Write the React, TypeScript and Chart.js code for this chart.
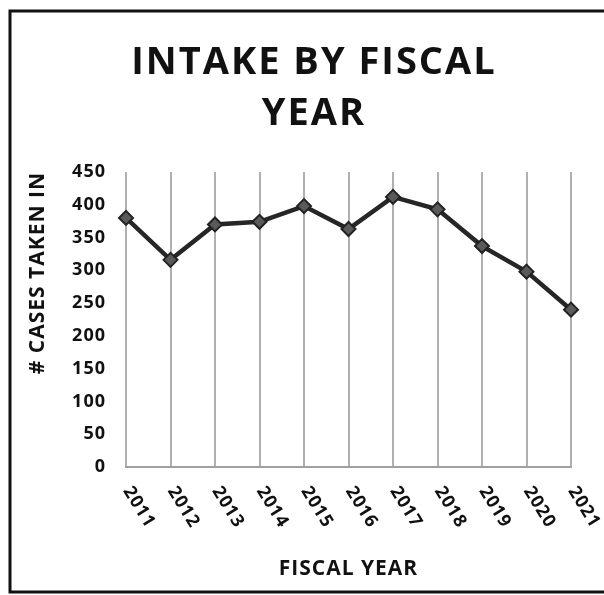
import React, { useEffect, useRef } from "react";
import { Chart, registerables } from "chart.js";

Chart.register(...registerables);

const fiscalYears = ["2011", "2012", "2013", "2014", "2015", "2016", "2017", "2018", "2019", "2020", "2021"];
const casesTakenIn = [380, 316, 370, 374, 398, 363, 412, 393, 337, 298, 240];
const titleLines = ["INTAKE BY FISCAL", "YEAR"];
const yAxisTitle = "# CASES TAKEN IN";
const xAxisTitle = "FISCAL YEAR";
const yMin = 0;
const yMax = 450;
const yStep = 50;

const FONT = "'Open Sans', Lato, sans-serif";

const framePlugin = {
  id: "frame",
  beforeDraw(chart: any) {
    const { ctx, width, height } = chart;
    ctx.save();
    ctx.fillStyle = "#ffffff";
    ctx.fillRect(0, 0, width, height);
    ctx.strokeStyle = "#111111";
    ctx.lineWidth = 3;
    ctx.beginPath();
    ctx.moveTo(width + 5, 11);
    ctx.lineTo(10, 11);
    ctx.lineTo(10, 592);
    ctx.lineTo(width + 5, 592);
    ctx.stroke();
    ctx.restore();
    // slightly wider tracking for all chart text, like the reference
    (ctx as any).letterSpacing = "1px";
  },
  afterDraw(chart: any) {
    (chart.ctx as any).letterSpacing = "0px";
  },
};

const titleTextPlugin = {
  id: "titleText",
  afterDraw(chart: any) {
    const { ctx } = chart;
    ctx.save();
    (ctx as any).letterSpacing = "2px";
    ctx.fillStyle = "#111111";
    ctx.font = `bold 38px ${FONT}`;
    ctx.textAlign = "center";
    ctx.textBaseline = "alphabetic";
    const baselines = [74, 125];
    titleLines.forEach((line, i) => {
      ctx.fillText(line, 314, baselines[i]);
    });
    ctx.restore();
  },
};

const rotatedTicksPlugin = {
  id: "rotatedTicks",
  afterDraw(chart: any) {
    const { ctx, chartArea } = chart;
    const xs = chart.scales.x;
    ctx.save();
    (ctx as any).letterSpacing = "1px";
    ctx.fillStyle = "#111111";
    ctx.font = `bold 18px ${FONT}`;
    ctx.textAlign = "left";
    ctx.textBaseline = "middle";
    const angle = (58 * Math.PI) / 180;
    fiscalYears.forEach((label, i) => {
      const px = xs.getPixelForTick(i);
      ctx.save();
      ctx.translate(px + 1, chartArea.bottom + 21);
      ctx.rotate(angle);
      ctx.fillText(label, 0, 0);
      ctx.restore();
    });
    ctx.restore();
  },
};

export default function App() {
  const canvasRef = useRef<HTMLCanvasElement | null>(null);

  useEffect(() => {
    const canvas = canvasRef.current;
    if (!canvas) return;
    const chart = new Chart(canvas, {
      type: "line",
      data: {
        labels: fiscalYears,
        datasets: [
          {
            label: "Intake",
            data: casesTakenIn,
            yAxisID: "y",
            borderColor: "#262626",
            borderWidth: 4.5,
            pointStyle: "rectRot",
            pointRadius: 7,
            pointBackgroundColor: "#5a5a5a",
            pointBorderColor: "#222222",
            pointBorderWidth: 2,
            tension: 0,
            fill: false,
          },
        ],
      },
      options: {
        responsive: false,
        animation: false,
        devicePixelRatio: 1,
        layout: { padding: { left: 22, right: 0, top: 172, bottom: 0 } },
        plugins: {
          legend: { display: false },
          tooltip: { enabled: false },
          title: { display: false },
        },
        scales: {
          x: {
            type: "category",
            offset: false,
            grid: { display: true, color: "#b0b0b0", lineWidth: 2, drawTicks: false },
            border: { display: true, color: "#a0a0a0", width: 2 },
            ticks: { display: false },
            title: {
              display: true,
              text: xAxisTitle,
              color: "#111111",
              font: { family: FONT, size: 21, weight: "bold" },
              padding: { top: 0, bottom: 13 },
            },
            afterFit: (s: any) => {
              s.height = 128;
            },
          },
          y: {
            type: "linear",
            position: "left",
            min: yMin,
            max: yMax,
            ticks: {
              stepSize: yStep,
              color: "#111111",
              font: { family: FONT, size: 18, weight: "bold" },
              padding: 20,
            },
            grid: { display: false, drawTicks: false },
            border: { display: false },
            title: {
              display: true,
              text: yAxisTitle,
              align: "end",
              color: "#111111",
              font: { family: FONT, size: 21, weight: "bold" },
              padding: { top: 3, bottom: 0 },
            },
            afterFit: (s: any) => {
              s.width = 104;
            },
          },
          yRight: {
            type: "linear",
            position: "right",
            display: true,
            min: yMin,
            max: yMax,
            ticks: { display: false },
            grid: { display: false, drawTicks: false },
            border: { display: false },
            afterFit: (s: any) => {
              s.width = 33;
            },
          },
        },
      },
      plugins: [framePlugin, titleTextPlugin, rotatedTicksPlugin],
    } as any);
    return () => {
      chart.destroy();
    };
  }, []);

  return (
    <div style={{ position: "fixed", left: 0, top: 0, width: 604, height: 595, overflow: "hidden", background: "#fff" }}>
      <canvas ref={canvasRef} width={604} height={595} style={{ display: "block" }} />
    </div>
  );
}
